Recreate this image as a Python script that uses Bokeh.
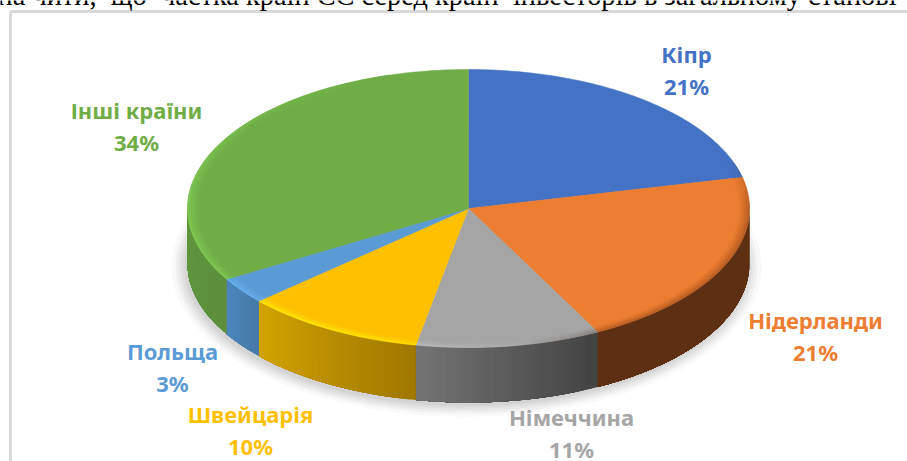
import math
from bokeh.plotting import figure
from bokeh.models import ColumnDataSource, Range1d
from bokeh.core.properties import value
from bokeh.embed import file_html
from bokeh.resources import INLINE

categories = ["Кіпр", "Нідерланди", "Німеччина", "Швейцарія", "Польща", "Інші країни"]
shares = [21.4, 21.0, 10.6, 10.4, 3.1, 33.5]
share_labels = ["21%", "21%", "11%", "10%", "3%", "34%"]
top_colors = ["#4472c4", "#ed7d31", "#a5a5a5", "#ffc000", "#5b9bd5", "#70ad47"]
rim_colors = ["#4472c4", "#ed7d31", "#c4c4c4", "#ffe800", "#68b0f0", "#80c853"]
side_left = ["#2b4a80", "#5e3013", "#747474", "#d2a400", "#4c86bb", "#60953f"]
side_right = ["#2b4a80", "#5e3013", "#424242", "#a07700", "#457aa8", "#5d8f3d"]
label_x = [686, 815, 571, 250, 172, 136]
label_y = [53, 319, 416, 413, 350, 109]
heading = "на чити,\u00a0 що\u00a0 частка країн ЄС серед країн\u00a0 інвесторів в загальному станові"

W, H = 907, 461
CX, CY, RX, RY, DEPTH = 468, 208, 281, 139, 55


def pt(deg, k=1.0):
    a = math.radians(deg)
    return CX + RX * k * math.sin(a), CY - RY * k * math.cos(a)


def rgb(h):
    return tuple(int(h[i:i + 2], 16) for i in (1, 3, 5))


def mix(a, b, t):
    t = max(0.0, min(1.0, t))
    ca, cb = rgb(a), rgb(b)
    return "#%02x%02x%02x" % tuple(round(ca[i] + (cb[i] - ca[i]) * t) for i in range(3))


p = figure(width=W, height=H, x_range=Range1d(0, W), y_range=Range1d(H, 0),
           output_backend="svg", toolbar_location=None, min_border=0,
           outline_line_color=None, background_fill_color="white")
p.axis.visible = False
p.grid.visible = False

# frame
p.segment([10, 10], [11, 11], [W, 10], [11, H], line_color="#d9d9d9", line_width=3)

# soft shadow
for grow, alpha in [(14, .05), (10, .07), (7, .08), (4, .09), (1, .10)]:
    n = 180
    xs = [CX - 2 + (RX + grow) * math.sin(2 * math.pi * i / n) for i in range(n)]
    ys = [CY + DEPTH + 3 + (RY + grow * .8) * math.cos(2 * math.pi * i / n) for i in range(n)]
    p.patch(xs, ys, fill_color="#808080", fill_alpha=alpha, line_color=None)

# slice boundaries, clockwise from the top
edges = [0.0]
for s in shares:
    edges.append(edges[-1] + s / sum(shares) * 360)

# side wall: overlapping strips, painted left to right, so no seams show
sx, sy, sc = [], [], []
for i in range(len(shares)):
    a0, a1 = max(edges[i], 90), min(edges[i + 1], 270)
    if a1 <= a0:
        continue
    steps = max(2, int((a1 - a0) / 1.2))
    for j in range(steps):
        u, v = a0 + (a1 - a0) * j / steps, a1
        n = max(2, int(v - u) + 1)
        arc = [pt(u + (v - u) * t / n) for t in range(n + 1)]
        c = mix(side_right[i], side_left[i], (j + .5) / steps)
        sx.append([q[0] for q in arc] + [q[0] for q in reversed(arc)])
        sy.append([q[1] for q in arc] + [q[1] + DEPTH for q in reversed(arc)])
        sc.append(c)
p.patches(sx, sy, fill_color=sc, line_color=None)

# top faces
for i in range(len(shares)):
    n = max(3, int(edges[i + 1] - edges[i]))
    arc = [pt(edges[i] + (edges[i + 1] - edges[i]) * j / n) for j in range(n + 1)]
    p.patch([CX] + [q[0] for q in arc], [CY] + [q[1] for q in arc],
            fill_color=top_colors[i], line_color=top_colors[i], line_width=.5)


def light(deg):
    if 160 <= deg <= 345:
        t = 1 - abs(deg - 225) / (120 if deg > 225 else 65)
        return max(0.0, min(1.0, t * 1.6))
    return 0.0


def dark(deg):
    if 70 <= deg <= 170:
        return .32 * min(1.0, min(deg - 70, 170 - deg) / 20)
    return 0.0


# bevel along the rim of the top face
bands = [1.0, .994, .988, .98, .972, .964]
rx_, ry_, rc = [], [], []
for i in range(len(shares)):
    steps = max(2, int((edges[i + 1] - edges[i]) / 2))
    for j in range(steps):
        u = edges[i] + (edges[i + 1] - edges[i]) * j / steps
        v = edges[i] + (edges[i + 1] - edges[i]) * (j + 1) / steps
        m = (u + v) / 2
        for b in range(len(bands) - 1):
            k0, k1 = bands[b], bands[b + 1]
            weight = (1 - b / (len(bands) - 1)) ** 1.1
            c = mix(top_colors[i], rim_colors[i], light(m) * weight)
            d = dark(m) * weight
            if d > 0:
                c = mix(c, "#3a1a08", d)
            if c == top_colors[i]:
                continue
            a, e = pt(u, k0), pt(v, k0)
            f, g = pt(v, k1), pt(u, k1)
            rx_.append([a[0], e[0], f[0], g[0]])
            ry_.append([a[1], e[1], f[1], g[1]])
            rc.append(c)
p.patches(rx_, ry_, fill_color=rc, line_color=rc, line_width=.3)

# data labels
names, tx, ty, tc = [], [], [], []
for i, name in enumerate(categories):
    names += [name, share_labels[i]]
    tx += [label_x[i], label_x[i]]
    ty += [label_y[i], label_y[i] + 32]
    tc += [top_colors[i], top_colors[i]]
src = ColumnDataSource(dict(x=tx, y=ty, t=names, c=tc))
p.text("x", "y", text="t", source=src, text_color="c", text_align="center", text_baseline="middle",
       text_font=value("Noto Sans"), text_font_style="bold", text_font_size="22px")

# clipped sentence above the chart
p.text([-3], [-5], text=[heading], text_font=value("Liberation Serif"), text_font_size="28.4px",
       text_color="black", text_baseline="alphabetic")

open("out.html", "w").write(file_html(p, INLINE))
